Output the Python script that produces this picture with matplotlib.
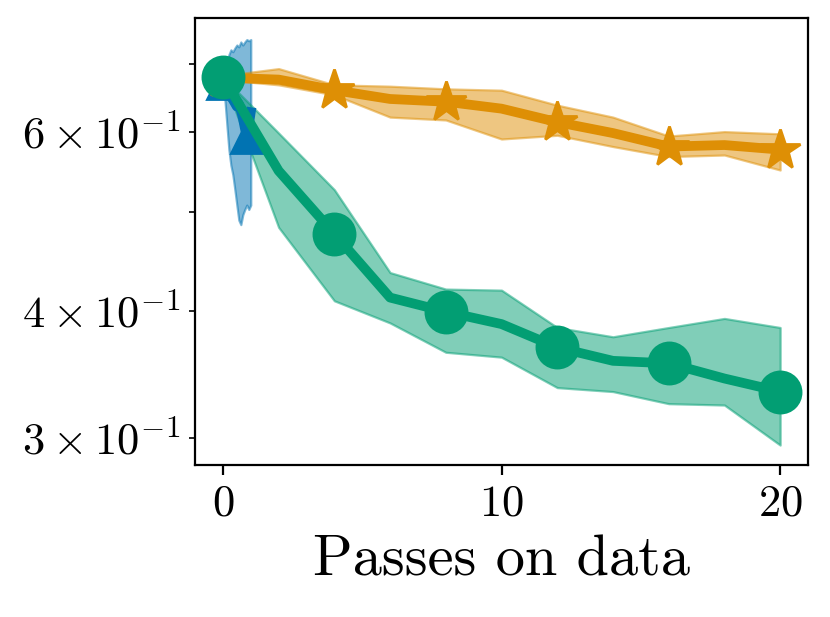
import numpy as np
import matplotlib
matplotlib.use("Agg")
import matplotlib.pyplot as plt

plt.rcParams["font.family"] = "serif"
plt.rcParams["font.serif"] = ["cmr10"]
plt.rcParams["mathtext.fontset"] = "cm"
plt.rcParams["axes.formatter.use_mathtext"] = True
plt.rcParams["axes.unicode_minus"] = False

# blue run (fraction of one pass)
blue_x = [0, 0.071, 0.143, 0.214, 0.286, 0.357, 0.429, 0.5, 0.571, 0.643, 0.714, 0.786, 0.857, 0.929, 1.0]
blue_mean = [0.670, 0.665, 0.659, 0.654, 0.649, 0.645, 0.640, 0.635, 0.639, 0.630, 0.619, 0.605, 0.593, 0.609, 0.627]
blue_hi = [0.670, 0.682, 0.701, 0.714, 0.722, 0.719, 0.725, 0.730, 0.727, 0.735, 0.730, 0.735, 0.739, 0.737, 0.739]
blue_lo = [0.670, 0.645, 0.609, 0.576, 0.556, 0.544, 0.526, 0.508, 0.491, 0.486, 0.497, 0.503, 0.508, 0.503, 0.508]

passes = [0, 2, 4, 6, 8, 10, 12, 14, 16, 18, 20]

orange_mean = [0.678, 0.675, 0.659, 0.646, 0.642, 0.632, 0.613, 0.598, 0.580, 0.582, 0.576]
orange_hi = [0.681, 0.692, 0.667, 0.665, 0.661, 0.659, 0.637, 0.620, 0.594, 0.600, 0.597]
orange_lo = [0.675, 0.667, 0.652, 0.620, 0.616, 0.590, 0.595, 0.580, 0.567, 0.569, 0.550]

green_mean = [0.679, 0.549, 0.476, 0.412, 0.399, 0.388, 0.368, 0.357, 0.355, 0.343, 0.333]
green_hi = [0.679, 0.598, 0.526, 0.436, 0.420, 0.419, 0.385, 0.377, 0.385, 0.393, 0.385]
green_lo = [0.679, 0.483, 0.409, 0.389, 0.364, 0.360, 0.336, 0.333, 0.324, 0.323, 0.295]

c_blue = "#0173B2"
c_orange = "#DE8F05"
c_green = "#029E73"

fig = plt.figure(figsize=(4.15, 3.085), dpi=200)
ax = fig.add_axes([0.235, 0.2464, 0.7385, 0.7244])

ax.fill_between(blue_x, blue_lo, blue_hi, color=c_blue, alpha=0.5, linewidth=0.8)
ax.plot(blue_x, blue_mean, color=c_blue, lw=3.5, marker="^", ms=11.5, markevery=12)

ax.fill_between(passes, orange_lo, orange_hi, color=c_orange, alpha=0.5, linewidth=0.8)
ax.plot(passes, orange_mean, color=c_orange, lw=3.5, marker="*", ms=15, markevery=2)

ax.fill_between(passes, green_lo, green_hi, color=c_green, alpha=0.5, linewidth=0.8)
ax.plot(passes, green_mean, color=c_green, lw=3.5, marker="o", ms=14.8, markevery=2)

ax.set_yscale("log")
ax.set_xlim(-1, 21)
ax.set_ylim(0.282, 0.776)
ax.tick_params(axis="both", which="both", labelsize=16)
ax.set_xlabel("Passes on data", fontsize=21)

fig.savefig("out.png", dpi=200)
